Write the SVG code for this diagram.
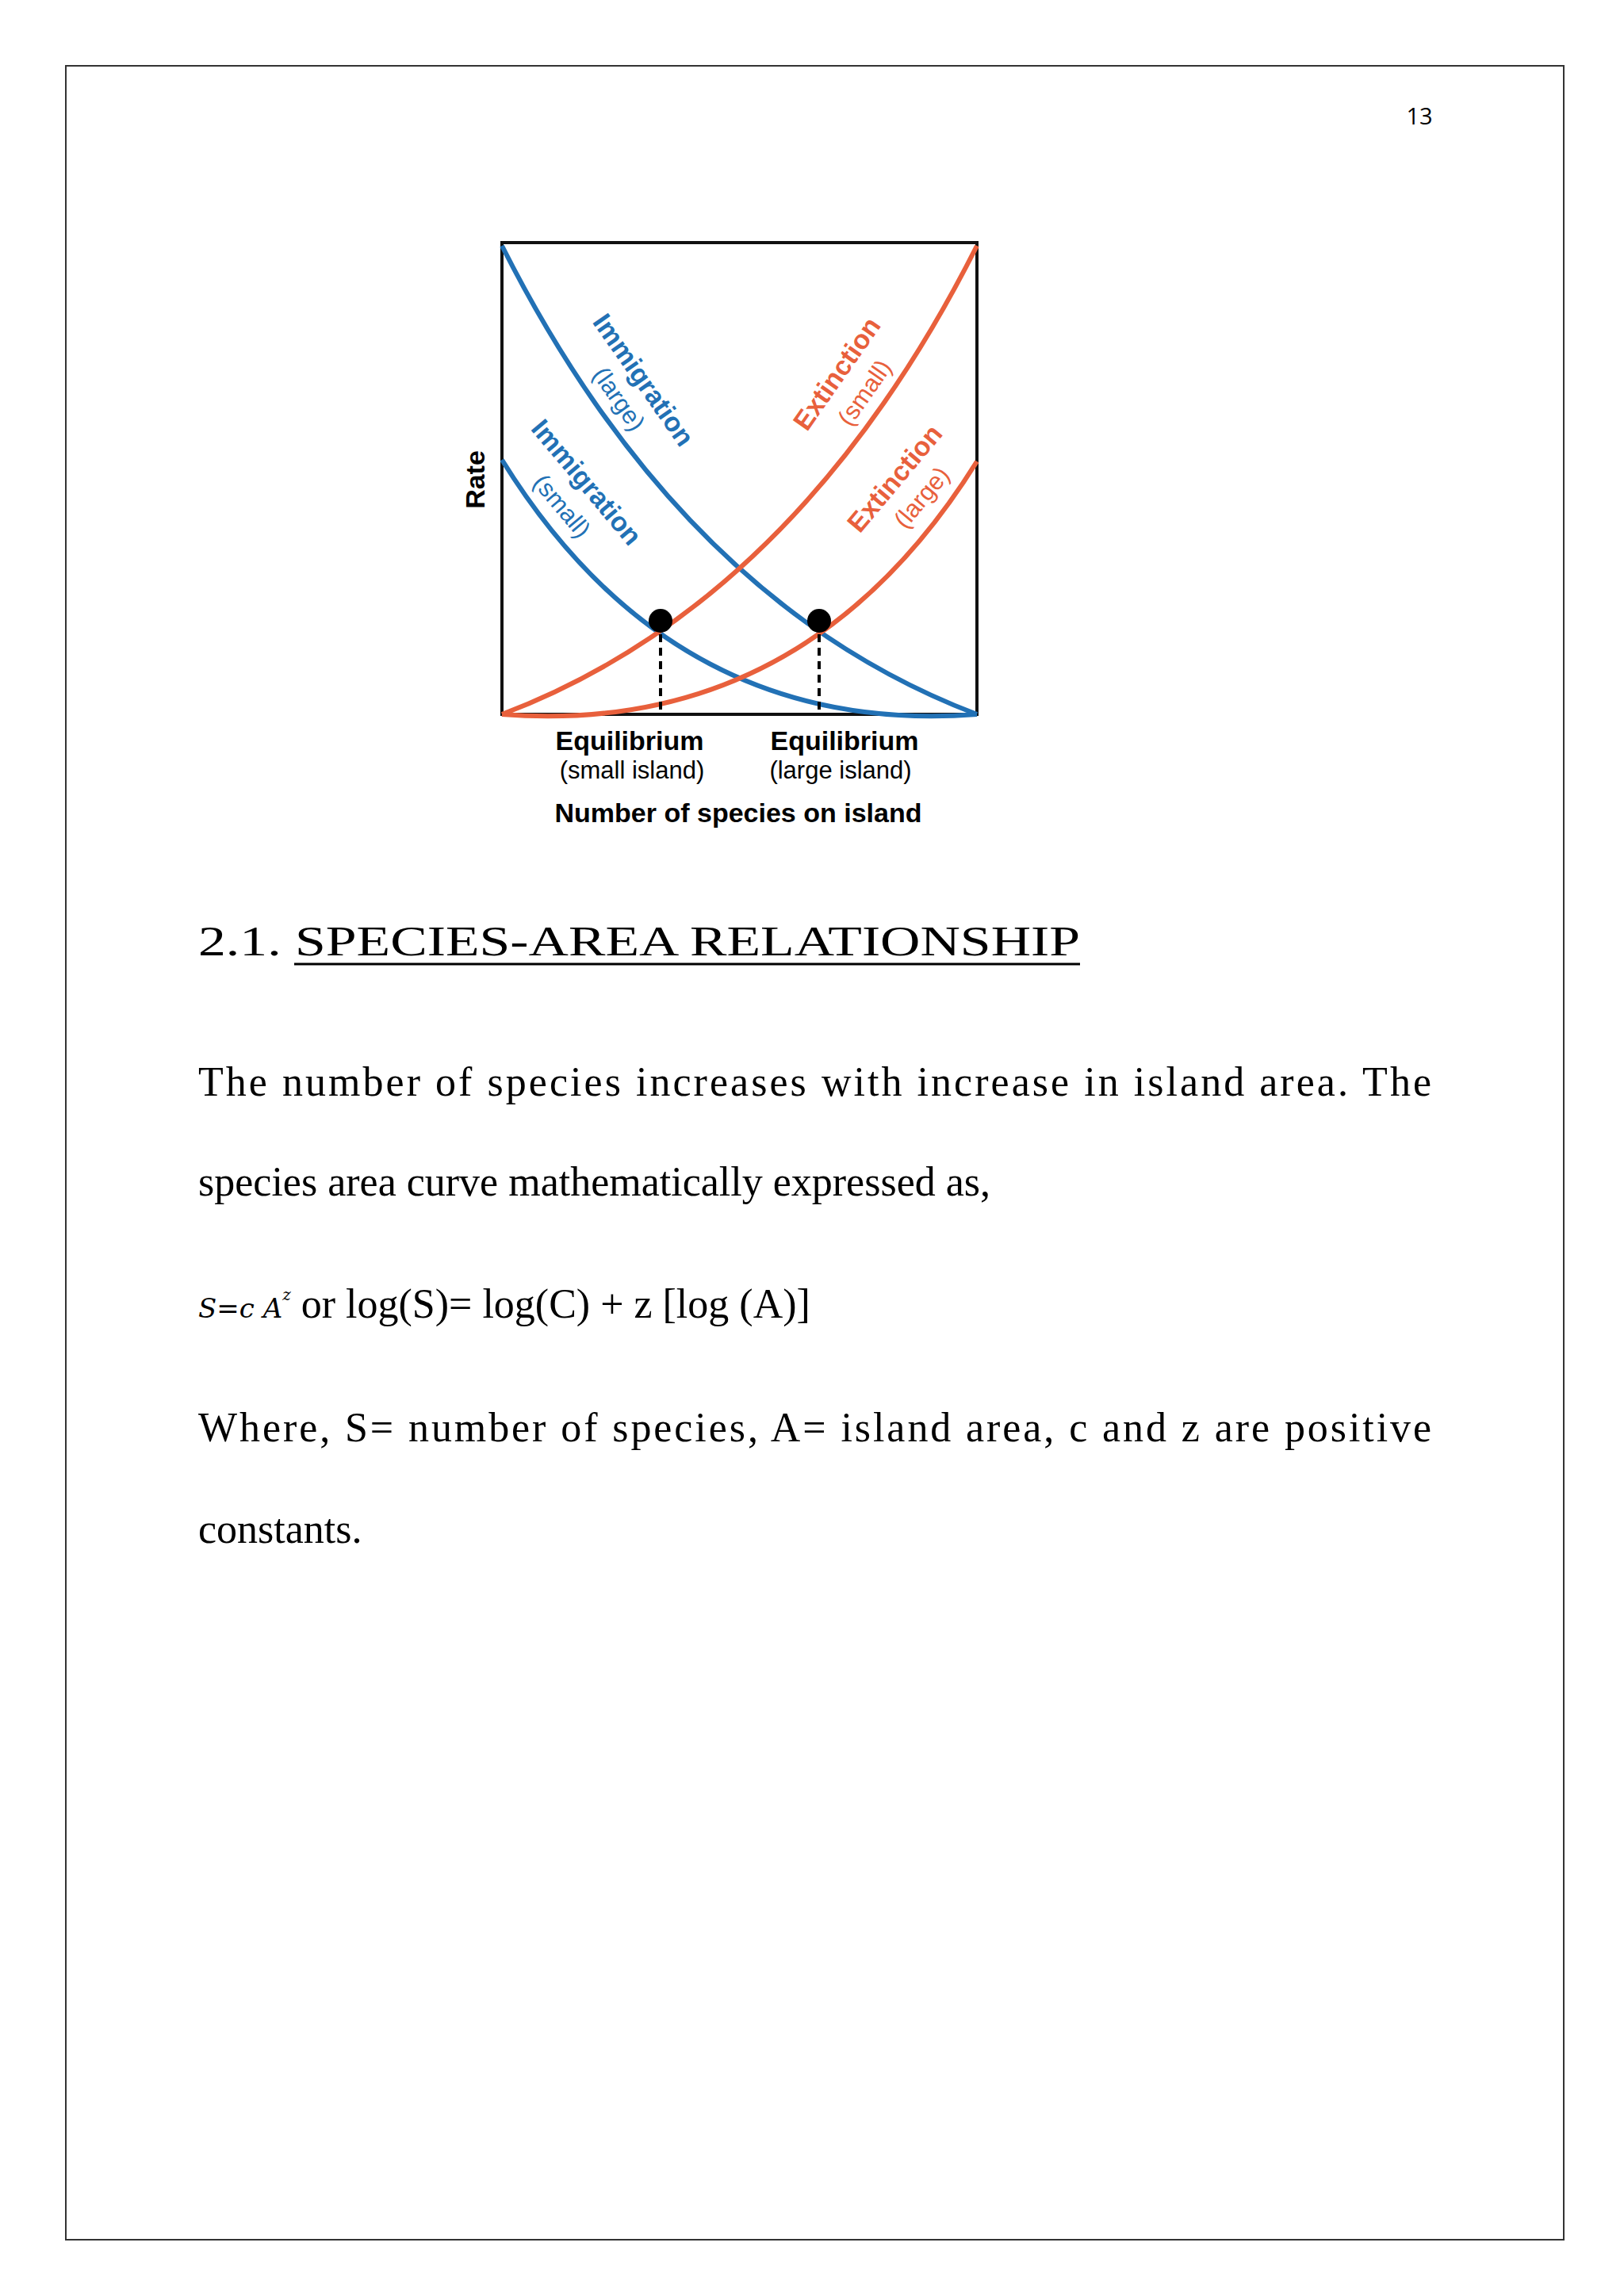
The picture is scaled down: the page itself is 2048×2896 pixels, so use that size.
<svg xmlns="http://www.w3.org/2000/svg" width="2048" height="2896" viewBox="0 0 2048 2896">
<style>
.b{fill:none;stroke:#2271b5;stroke-width:6}
.o{fill:none;stroke:#e8603c;stroke-width:6}
.lb{font-family:"Liberation Sans",Arial,sans-serif;font-weight:bold;font-size:34px;text-anchor:middle}
.lr{font-family:"Liberation Sans",Arial,sans-serif;font-size:31px;text-anchor:middle}
.t{font-family:"Liberation Serif","Times New Roman",serif;font-size:52px}
</style>
<rect width="2048" height="2896" fill="#fff"/>
<rect x="83" y="83" width="1889" height="2742" fill="none" stroke="#333" stroke-width="2"/>
<text x="1790" y="157" font-family="Open Sans,sans-serif" font-size="29" text-anchor="middle">13</text>
<g id="chart">
<rect x="633" y="306" width="599" height="595" fill="none" stroke="#111" stroke-width="4"/>
<g id="connectors">
<path class="b" d="M633,310 Q860,760 1232,901"/>
<path class="b" d="M633,580 Q850,930 1232,901"/>
<path class="o" d="M633,901 Q1005,760 1232,310"/>
<path class="o" d="M633,901 Q1015,930 1232,582"/>
<line x1="833" y1="783" x2="833" y2="901" stroke="#000" stroke-width="4" stroke-dasharray="10,7"/>
<line x1="1033" y1="783" x2="1033" y2="901" stroke="#000" stroke-width="4" stroke-dasharray="10,7"/>
</g>
<circle cx="833" cy="783" r="15"/>
<circle cx="1033" cy="783" r="15"/>
<g fill="#2271b5">
<text class="lb" transform="translate(812,479) rotate(55)" dy="12">Immigration</text>
<text class="lr" transform="translate(781,503) rotate(55)" dy="11">(large)</text>
<text class="lb" transform="translate(740,608) rotate(50)" dy="12">Immigration</text>
<text class="lr" transform="translate(709,638) rotate(50)" dy="11">(small)</text>
</g>
<g fill="#e8603c">
<text class="lb" transform="translate(1055,471) rotate(-55)" dy="12">Extinction</text>
<text class="lr" transform="translate(1090,495) rotate(-55)" dy="11">(small)</text>
<text class="lb" transform="translate(1128,603) rotate(-50)" dy="12">Extinction</text>
<text class="lr" transform="translate(1162,627) rotate(-50)" dy="11">(large)</text>
</g>
<text class="lb" transform="translate(599,605) rotate(-90)" dy="12" font-size="36">Rate</text>
<text class="lb" x="794" y="946" font-size="36">Equilibrium</text>
<text class="lr" x="797" y="982">(small island)</text>
<text class="lb" x="1065" y="946" font-size="36">Equilibrium</text>
<text class="lr" x="1060" y="982">(large island)</text>
<text class="lb" x="931" y="1037" font-size="37">Number of species on island</text>
</g>
<g id="text">
<text class="t" x="250" y="1205" font-size="64" textLength="1112" lengthAdjust="spacingAndGlyphs">2.1. SPECIES-AREA RELATIONSHIP</text>
<line x1="371" y1="1216" x2="1362" y2="1216" stroke="#000" stroke-width="3"/>
<text class="t" x="250" y="1382" textLength="1555" lengthAdjust="spacing">The number of species increases with increase in island area. The</text>
<text class="t" x="250" y="1508">species area curve mathematically expressed as,</text>
<text x="250" y="1662"><tspan font-family="DejaVu Serif,serif" font-style="italic" font-size="34">S=c A</tspan><tspan font-family="DejaVu Serif,serif" font-style="italic" font-size="20" dy="-22">z</tspan><tspan class="t" dy="22"> or log(S)= log(C) + z [log (A)]</tspan></text>
<text class="t" x="250" y="1818" textLength="1555" lengthAdjust="spacing">Where, S= number of species, A= island area, c and z are positive</text>
<text class="t" x="250" y="1946">constants.</text>
</g>
</svg>
